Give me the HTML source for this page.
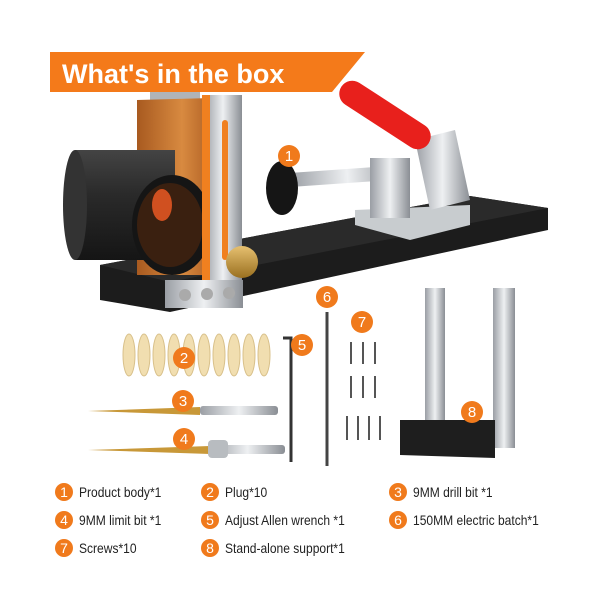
<!DOCTYPE html>
<html><head><meta charset="utf-8"><style>
body{margin:0;background:#fff;width:612px;height:612px;overflow:hidden;font-family:"Liberation Sans",sans-serif}
svg{position:absolute;left:0;top:0}
.lg{position:absolute;font-size:14px;color:#222;white-space:nowrap}
.c{display:inline-block;width:18px;height:18px;border-radius:50%;background:#f07a1c;color:#fff;font-size:14px;line-height:18px;text-align:center;margin-right:6px;vertical-align:middle}
.t{display:inline-block;transform:scaleX(0.86);transform-origin:left center;vertical-align:middle}
</style></head><body>
<svg width="612" height="612" viewBox="0 0 612 612">
<defs>
<linearGradient id="sil" x1="0" x2="1"><stop offset="0" stop-color="#9a9ea4"/><stop offset=".5" stop-color="#eef0f2"/><stop offset="1" stop-color="#8a8e94"/></linearGradient>
<linearGradient id="cop" x1="0" x2="1"><stop offset="0" stop-color="#a85a20"/><stop offset=".6" stop-color="#d88a40"/><stop offset="1" stop-color="#b06024"/></linearGradient>
<linearGradient id="gold" x1="0" y1="0" x2="0" y2="1"><stop offset="0" stop-color="#e6c070"/><stop offset="1" stop-color="#9a7020"/></linearGradient>
<linearGradient id="cyl" x1="0" y1="0" x2="0" y2="1"><stop offset="0" stop-color="#444"/><stop offset=".4" stop-color="#2a2a2a"/><stop offset="1" stop-color="#151515"/></linearGradient>
</defs>
<!-- base -->
<polygon points="100,265 470,196 548,208 548,230 170,312 100,300" fill="#1c1c1c"/>
<polygon points="100,265 470,196 548,208 170,282" fill="#2a2a2a"/>
<!-- copper block -->
<rect x="150" y="92" width="50" height="12" fill="#b0b4b8"/>
<polygon points="137,100 212,98 212,275 137,275" fill="url(#cop)"/>
<!-- cylinder -->
<rect x="75" y="150" width="100" height="110" fill="url(#cyl)"/>
<ellipse cx="75" cy="205" rx="12" ry="55" fill="#333"/>
<ellipse cx="172" cy="225" rx="40" ry="50" fill="#151515"/>
<ellipse cx="170" cy="225" rx="33" ry="42" fill="#3a2010"/>
<ellipse cx="162" cy="205" rx="10" ry="16" fill="#d05020"/>
<rect x="204" y="95" width="38" height="190" fill="url(#sil)"/>
<rect x="202" y="95" width="8" height="190" fill="#f08020"/>
<rect x="222" y="120" width="6" height="140" rx="3" fill="#f08020"/>
<circle cx="242" cy="262" r="16" fill="url(#gold)"/>
<rect x="165" y="280" width="78" height="28" fill="url(#sil)"/>
<circle cx="185" cy="295" r="6" fill="#aaa"/><circle cx="207" cy="294" r="6" fill="#aaa"/><circle cx="229" cy="293" r="6" fill="#aaa"/>
<!-- clamp -->
<rect x="290" y="173" width="115" height="14" fill="url(#sil)" transform="rotate(-4 290 180)"/>
<ellipse cx="282" cy="188" rx="16" ry="27" fill="#151515"/>
<polygon points="355,210 470,205 470,225 410,240 355,225" fill="#c8cccf"/>
<rect x="370" y="158" width="40" height="60" fill="url(#sil)"/>
<polygon points="415,140 455,130 470,200 430,210" fill="url(#sil)"/>
<g transform="rotate(33 385 115)"><rect x="333" y="102" width="104" height="26" rx="13" fill="#e8201c"/></g>
<!-- banner -->
<polygon points="50,52 365,52 332,92 50,92" fill="#f47a1a"/>
<text x="62" y="83" font-size="27" font-weight="bold" fill="#fff" font-family="Liberation Sans,sans-serif">What's in the box</text>
<!-- plugs -->
<g fill="#f1deb0" stroke="#d8c08a" stroke-width="1">
<ellipse cx="129" cy="355" rx="6" ry="21"/><ellipse cx="144" cy="355" rx="6" ry="21"/><ellipse cx="159" cy="355" rx="6" ry="21"/><ellipse cx="174" cy="355" rx="6" ry="21"/><ellipse cx="189" cy="355" rx="6" ry="21"/><ellipse cx="204" cy="355" rx="6" ry="21"/><ellipse cx="219" cy="355" rx="6" ry="21"/><ellipse cx="234" cy="355" rx="6" ry="21"/><ellipse cx="249" cy="355" rx="6" ry="21"/><ellipse cx="264" cy="355" rx="6" ry="21"/>
</g>
<!-- bits -->
<polygon points="88,411 200,407 200,415" fill="#c89838"/><rect x="200" y="406" width="78" height="9" rx="3" fill="url(#sil)"/>
<polygon points="88,450 210,446 210,454" fill="#c89838"/><rect x="210" y="445" width="75" height="9" rx="3" fill="url(#sil)"/>
<rect x="208" y="440" width="20" height="18" rx="4" fill="#b8bcc0"/>
<!-- allen -->
<path d="M283,338 H291 V462" stroke="#333" stroke-width="3" fill="none"/>
<!-- electric bit -->
<line x1="327" y1="312" x2="327" y2="466" stroke="#444" stroke-width="3"/>
<!-- screws -->
<g stroke="#555" stroke-width="2">
<line x1="351" y1="342" x2="351" y2="364"/><line x1="363" y1="342" x2="363" y2="364"/><line x1="375" y1="342" x2="375" y2="364"/>
<line x1="351" y1="376" x2="351" y2="398"/><line x1="363" y1="376" x2="363" y2="398"/><line x1="375" y1="376" x2="375" y2="398"/>
<line x1="347" y1="416" x2="347" y2="440"/><line x1="358" y1="416" x2="358" y2="440"/><line x1="369" y1="416" x2="369" y2="440"/><line x1="380" y1="416" x2="380" y2="440"/>
</g>
<!-- support -->
<rect x="425" y="288" width="20" height="140" fill="url(#sil)"/>
<rect x="493" y="288" width="22" height="160" fill="url(#sil)"/>
<polygon points="400,420 495,420 495,458 400,455" fill="#1e1e1e"/>
<!-- number badges -->
<g fill="#f07a1c"><circle cx="289" cy="156" r="11"/><circle cx="184" cy="358" r="11"/><circle cx="183" cy="401" r="11"/><circle cx="184" cy="439" r="11"/><circle cx="302" cy="345" r="11"/><circle cx="327" cy="297" r="11"/><circle cx="362" cy="322" r="11"/><circle cx="472" cy="412" r="11"/></g>
<g fill="#fff" font-size="15" text-anchor="middle" font-family="Liberation Sans,sans-serif">
<text x="289" y="161">1</text><text x="184" y="363">2</text><text x="183" y="406">3</text><text x="184" y="444">4</text><text x="302" y="350">5</text><text x="327" y="302">6</text><text x="362" y="327">7</text><text x="472" y="417">8</text></g>
</svg>
<div class="lg" style="left:55px;top:483px"><span class="c">1</span><span class="t">Product body*1</span></div>
<div class="lg" style="left:201px;top:483px"><span class="c">2</span><span class="t">Plug*10</span></div>
<div class="lg" style="left:389px;top:483px"><span class="c">3</span><span class="t">9MM drill bit *1</span></div>
<div class="lg" style="left:55px;top:511px"><span class="c">4</span><span class="t">9MM limit bit *1</span></div>
<div class="lg" style="left:201px;top:511px"><span class="c">5</span><span class="t">Adjust Allen wrench *1</span></div>
<div class="lg" style="left:389px;top:511px"><span class="c">6</span><span class="t">150MM electric batch*1</span></div>
<div class="lg" style="left:55px;top:539px"><span class="c">7</span><span class="t">Screws*10</span></div>
<div class="lg" style="left:201px;top:539px"><span class="c">8</span><span class="t">Stand-alone support*1</span></div>
</body></html>
